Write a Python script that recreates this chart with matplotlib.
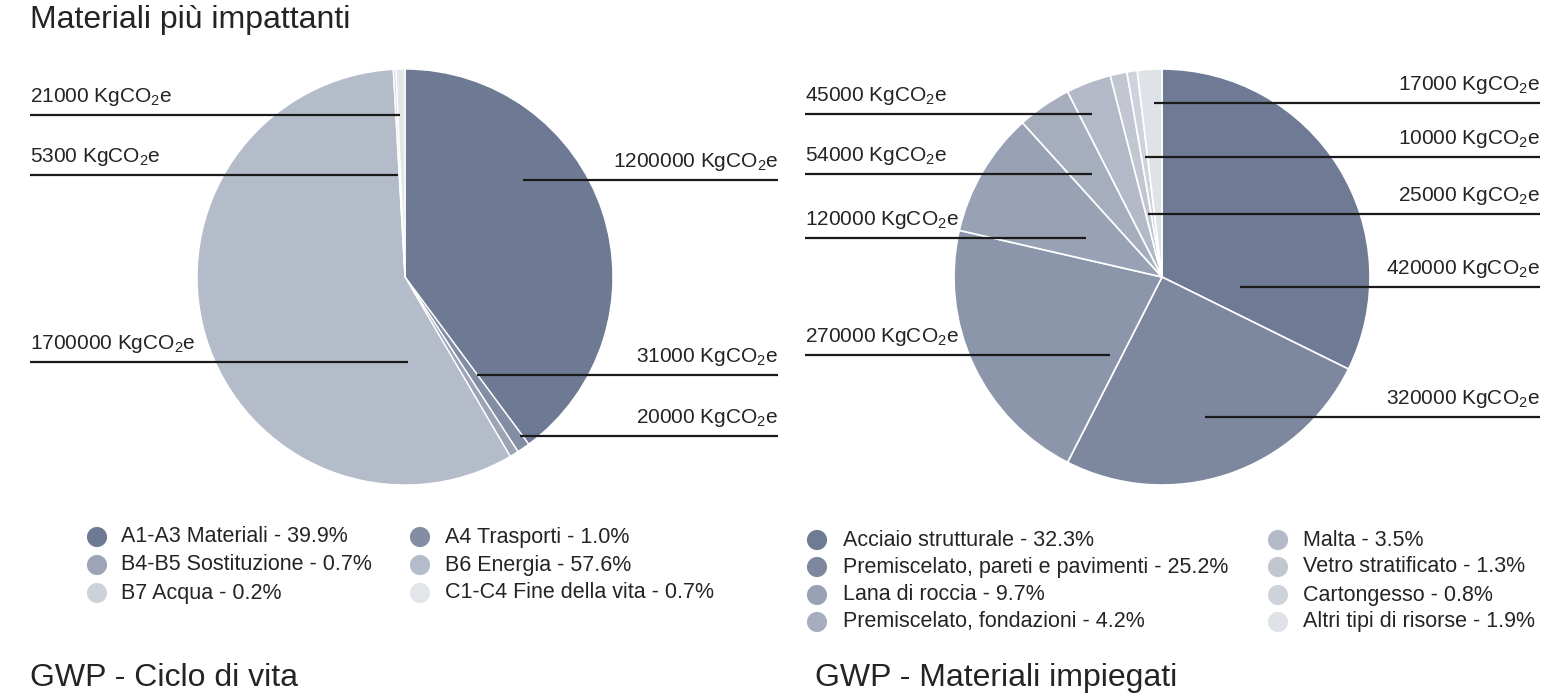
import matplotlib
matplotlib.use("Agg")
import matplotlib.pyplot as plt

plt.rcParams['font.family'] = ['Liberation Sans', 'DejaVu Sans']
plt.rcParams['mathtext.fontset'] = 'custom'
plt.rcParams['mathtext.rm'] = 'Liberation Sans'
plt.rcParams['mathtext.it'] = 'Liberation Sans'
plt.rcParams['mathtext.bf'] = 'Liberation Sans'

# ciclo di vita
life_names = ["A1-A3 Materiali", "A4 Trasporti", "B4-B5 Sostituzione",
              "B6 Energia", "B7 Acqua", "C1-C4 Fine della vita"]
life_share = [39.9, 1.0, 0.7, 57.6, 0.2, 0.7]
life_kg = [1200000, 31000, 20000, 1700000, 5300, 21000]
life_colors = ["#6e7a93", "#838ea4", "#9ca4b5", "#b4bbc9", "#cdd1da", "#e2e5ea"]

# materiali impiegati (la fetta da 270000 non compare in legenda)
mat_names = ["Acciaio strutturale", "Premiscelato, pareti e pavimenti", "",
             "Lana di roccia", "Premiscelato, fondazioni", "Malta",
             "Vetro stratificato", "Cartongesso", "Altri tipi di risorse"]
mat_share = [32.3, 25.2, 21.1, 9.7, 4.2, 3.5, 1.3, 0.8, 1.9]
mat_kg = [420000, 320000, 270000, 120000, 54000, 45000, 17000, 10000, 25000]
mat_colors = ["#6f7b94", "#7d889f", "#8c96ab", "#99a2b4", "#a6aebd",
              "#b3b9c6", "#c1c6d0", "#ced2da", "#dfe2e7"]

W, H = 1558, 696
fig = plt.figure(figsize=(W / 100, H / 100), dpi=100)
ax = fig.add_axes([0, 0, 1, 1])
ax.set_xlim(0, W)
ax.set_ylim(0, H)
ax.set_aspect('equal')
ax.axis('off')

def Y(y):
    return H - y

txt = "#242424"
R = 208

ax.pie(life_share, colors=life_colors, startangle=90, counterclock=False,
       center=(405, Y(277)), radius=R,
       wedgeprops=dict(edgecolor='white', linewidth=1))
ax.pie(mat_share, colors=mat_colors, startangle=90, counterclock=False,
       center=(1162, Y(277)), radius=R,
       wedgeprops=dict(edgecolor='white', linewidth=1.2))
ax.set_xlim(0, W)
ax.set_ylim(0, H)

# leader lines: (lato, y linea, x interno)
life_lab = [("r", 180, 523), ("r", 375, 477), ("r", 436, 520),
            ("l", 362, 408), ("l", 175, 398), ("l", 115, 400)]
mat_lab = [("r", 287, 1240), ("r", 417, 1205), ("l", 355, 1110),
           ("l", 238, 1086), ("l", 174, 1092), ("l", 114, 1092),
           ("r", 103, 1154), ("r", 157, 1145), ("r", 214, 1148)]

def leaders(kg, lab, x_left, x_right):
    for v, (side, ly, xin) in zip(kg, lab):
        s = f"{v} KgCO$_2$e"
        if side == "r":
            ax.plot([xin, x_right], [Y(ly), Y(ly)], color="#1a1a1a", lw=1.6,
                    solid_capstyle='butt')
            ax.text(x_right, Y(ly - 13), s, ha='right', va='baseline',
                    fontsize=15, color=txt)
        else:
            ax.plot([x_left, xin], [Y(ly), Y(ly)], color="#1a1a1a", lw=1.6,
                    solid_capstyle='butt')
            ax.text(x_left, Y(ly - 13), s, ha='left', va='baseline',
                    fontsize=15, color=txt)

leaders(life_kg, life_lab, 30, 778)
leaders(mat_kg, mat_lab, 805, 1540)

# legende
def legend(names, shares, colors, cols, rows_y, per_col):
    k = 0
    for n, s, c in zip(names, shares, colors):
        if not n:
            continue
        col, row = divmod(k, per_col) if per_col else (k % 2, k // 2)
        mx, tx = cols[col]
        y = rows_y[row]
        ax.scatter([mx], [Y(y)], s=210, color=c, edgecolors='none')
        ax.text(tx, Y(y), f"{n} - {s:.1f}%", ha='left', va='center',
                fontsize=15.5, color=txt)
        k += 1

legend(life_names, life_share, life_colors, [(97, 121), (420, 445)],
       [537, 565, 593], None)
legend(mat_names, mat_share, mat_colors, [(817, 843), (1278, 1303)],
       [540, 567, 595, 622], 4)

ax.text(30, Y(28), "Materiali più impattanti", fontsize=23, color=txt,
        va='baseline')
ax.text(30, Y(686), "GWP - Ciclo di vita", fontsize=23, color=txt,
        va='baseline')
ax.text(815, Y(686), "GWP - Materiali impiegati", fontsize=23, color=txt,
        va='baseline')

fig.savefig("out.png", dpi=100)
